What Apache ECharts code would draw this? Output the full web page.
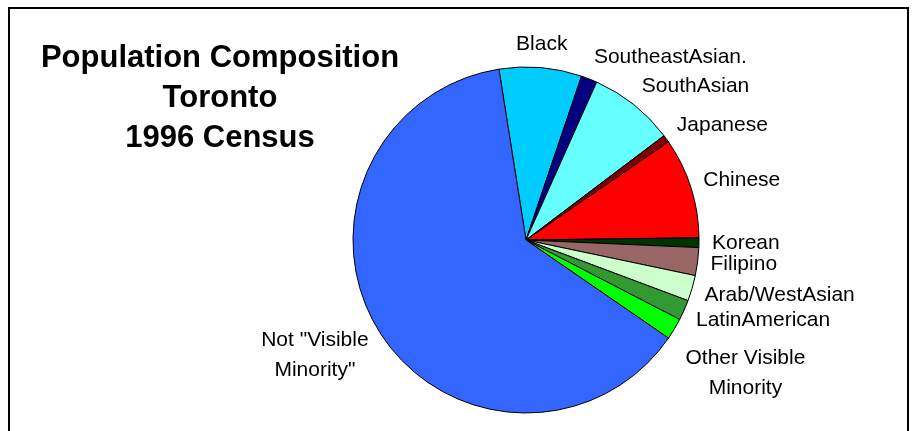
<!DOCTYPE html>
<html>
<head>
<meta charset="utf-8">
<script src="https://cdn.jsdelivr.net/npm/echarts@6/dist/echarts.min.js"></script>
<style>
  html, body { margin: 0; padding: 0; background: #fff; }
  #chart { width: 917px; height: 431px; }
</style>
</head>
<body>
<div id="chart"></div>
<script>
// ---- data ----
const categories = ['Black', 'SoutheastAsian.', 'SouthAsian', 'Japanese', 'Chinese', 'Korean',
  'Filipino', 'Arab/WestAsian', 'LatinAmerican', 'Other Visible\nMinority', 'Not "Visible\nMinority"'];
const shares = [7.7, 1.5, 8.0, 0.7, 9.4, 0.9, 2.6, 2.4, 1.9, 2.0, 62.9];
const colors = ['#00CCFF', '#000080', '#66FFFF', '#800000', '#FF0000', '#003300',
  '#996666', '#CCFFCC', '#339933', '#00FF00', '#3366FF'];
const titleLines = ['Population Composition', 'Toronto', '1996 Census'];

// ---- layout config ----
const CX = 526, CY = 240, R = 173, START_ANGLE = 99, LABEL_R = 186, PUSH_GAP = 13;
const FONT = 'Liberation Sans, Arial, sans-serif';
const LABEL_SIZE = 21;

const total = shares.reduce((a, b) => a + b, 0);
function midAngle(i) { // radians, clockwise from 12 o'clock
  let cum = 0;
  for (let k = 0; k < i; k++) cum += shares[k];
  const deg = (90 - START_ANGLE) + (cum + shares[i] / 2) / total * 360;
  return deg * Math.PI / 180;
}
function lineCount(i) { return categories[i].split('\n').length; }
function lineH(i) { return lineCount(i) > 1 ? 30 : 21; }
const ctx = document.createElement('canvas').getContext('2d');
ctx.font = LABEL_SIZE + 'px ' + FONT;
function textW(i) { return Math.max(...categories[i].split('\n').map(s => ctx.measureText(s).width)); }

function baseBox(i) {
  const a = midAngle(i), s = Math.sin(a), c = Math.cos(a);
  const ax = CX + s * LABEL_R, ay = CY - c * LABEL_R;
  const w = textW(i), h = lineCount(i) * lineH(i);
  let x;
  if (Math.abs(s) < 0.15) x = ax;
  else x = s > 0 ? ax + w / 2 : ax - w / 2;
  return { x: x, y: ay - c * h / 2, w: w, h: h, right: s >= 0 };
}
function resolvedBox(i) {
  const placed = [];
  let result;
  for (let k = 0; k <= i; k++) {
    const b = baseBox(k);
    placed.forEach(p => {
      if (p.right !== b.right) return;
      const xOverlap = Math.abs(p.x - b.x) < (p.w + b.w) / 2;
      if (xOverlap && b.y - b.h / 2 < p.y + p.h / 2 && b.y > p.y) b.y = p.y + p.h / 2 + PUSH_GAP + b.h / 2;
    });
    placed.push(b);
    if (k === i) result = b;
  }
  return result;
}

const chart = echarts.init(document.getElementById('chart'), null, { renderer: 'canvas' });
chart.setOption({
  animation: false,
  backgroundColor: '#fff',
  title: {
    text: titleLines.join('\n'),
    left: 220,
    top: 38,
    padding: 0,
    textAlign: 'center',
    textStyle: { fontFamily: FONT, fontSize: 31, fontWeight: 'bold', color: '#000', lineHeight: 40 }
  },
  graphic: [{
    type: 'rect',
    shape: { x: 9, y: 8, width: 899, height: 440 },
    style: { fill: 'none', stroke: '#000', lineWidth: 2 },
    silent: true
  }],
  series: [{
    type: 'pie',
    center: [CX, CY],
    radius: R,
    startAngle: START_ANGLE,
    clockwise: true,
    avoidLabelOverlap: false,
    emphasis: { disabled: true },
    itemStyle: { borderColor: '#000', borderWidth: 1 },
    label: {
      show: true,
      position: 'outside',
      color: '#000',
      fontFamily: FONT,
      fontSize: LABEL_SIZE
    },
    labelLine: { show: false },
    labelLayout: function (params) {
      const b = resolvedBox(params.dataIndex);
      return { x: b.x, y: b.y, align: 'center', verticalAlign: 'middle' };
    },
    data: categories.map((name, i) => ({
      name: name,
      value: shares[i],
      itemStyle: { color: colors[i] },
      label: { lineHeight: lineH(i) }
    }))
  }]
});
</script>
</body>
</html>
